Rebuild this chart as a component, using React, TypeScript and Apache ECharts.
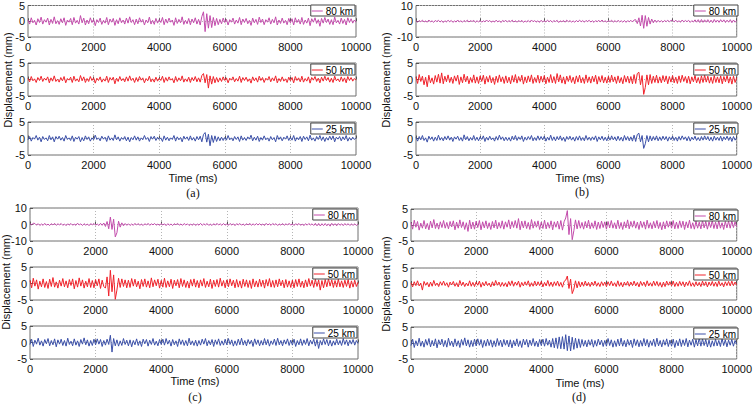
import React, { useEffect, useRef } from "react";
import * as echarts from "echarts";

// Sample spacing of the digitised records (ms)
const SAMPLE_STEP_MS = 50;

const X_TICKS = [0, 2000, 4000, 6000, 8000, 10000];
const SERIES_NAMES = ["80 km", "50 km", "25 km"];

// ---------- (a) ----------
const A80 = [0.4,-0.9,1.1,-0.5,0.3,-1.2,0.8,-0.4,1.3,-0.9,0.5,-0.3,1.0,-1.2,0.6,-0.7,1.4,-0.8,0.2,-1.0,
0.8,-0.5,1.1,-1.3,0.4,-0.3,0.9,-1.1,1.2,-0.6,0.3,-0.9,1.8,-0.5,1.0,-1.2,0.4,-0.8,1.1,-0.4,
0.6,-1.4,0.5,-0.4,1.0,-1.0,0.3,-0.6,1.2,-1.1,0.7,-0.3,0.9,-1.3,0.5,-0.8,1.1,-0.5,0.4,-0.9,
1.0,-0.6,1.4,-0.4,0.5,-1.1,0.7,-0.8,1.1,-0.3,0.6,-1.2,0.4,-0.5,1.3,-0.9,0.3,-1.0,0.9,-0.6,
0.5,-0.4,1.2,-1.1,0.7,-0.6,1.0,-0.3,0.4,-1.3,1.1,-0.7,0.6,-0.5,1.4,-1.0,0.3,-0.8,0.9,-1.1,
0.7,-0.5,1.1,-0.9,0.6,-1.2,1.5,3.0,-3.3,2.4,-2.2,1.8,-2.0,1.2,-1.4,0.9,-1.1,0.6,-0.8,1.0,
-0.4,0.6,-1.2,0.5,-0.3,1.0,-0.9,0.4,-0.6,1.2,-1.1,0.7,-0.4,0.9,-0.8,0.3,-1.3,1.0,-0.5,0.6,
-1.0,1.3,-0.4,0.7,-1.1,0.5,-0.3,1.1,-0.9,0.6,-0.5,1.4,-1.2,0.4,-0.7,1.0,-0.6,0.3,-1.1,0.9,
-0.5,0.8,-1.2,1.1,-0.4,0.6,-0.9,1.2,-1.0,0.4,-0.6,1.0,-1.4,0.8,-0.3,1.1,-0.7,0.5,-1.6,0.9,
-0.6,1.2,-0.4,0.7,-1.0,0.5,-1.1,1.3,-0.5,0.3,-0.9,1.0,-0.7,0.6,-1.2,1.1,-0.4,0.8,-0.6,0.4,
-0.3];
const A50 = [0.3,-0.7,0.9,-0.4,0.2,-0.9,0.6,-0.3,1.0,-0.6,0.4,-0.2,0.8,-1.0,0.5,-0.5,1.1,-0.6,0.1,-0.8,
0.6,-0.4,0.9,-1.0,0.3,-0.2,0.7,-0.9,1.0,-0.5,0.2,-0.7,1.2,-0.4,0.8,-0.9,0.3,-0.6,0.9,-0.3,
0.5,-1.1,0.4,-0.3,0.8,-0.8,0.2,-0.5,1.0,-0.9,0.6,-0.2,0.7,-1.3,0.4,-0.6,0.9,-0.4,0.3,-0.7,
0.8,-0.5,1.1,-0.3,0.4,-0.9,0.6,-0.6,0.9,-0.2,0.5,-1.0,0.3,-0.4,1.0,-0.7,0.2,-0.8,0.7,-0.5,
0.4,-0.3,1.0,-0.9,0.6,-0.5,0.8,-0.2,0.3,-1.0,0.9,-0.6,0.5,-0.4,1.1,-0.8,0.2,-0.6,0.7,-0.9,
0.6,-0.4,0.9,-0.7,0.5,-0.8,1.2,1.8,-1.0,1.5,-2.6,1.1,-1.4,0.9,-1.0,0.6,-0.8,0.5,-0.6,0.8,
-0.3,0.5,-1.0,0.4,-0.2,0.8,-0.7,0.3,-0.5,1.0,-0.9,0.6,-0.3,0.7,-0.6,0.2,-1.1,0.8,-0.4,0.5,
-0.8,1.0,-0.3,0.6,-0.9,0.4,-0.2,0.9,-0.7,0.5,-0.4,1.1,-1.0,0.3,-0.6,0.8,-0.5,0.2,-0.9,0.7,
-0.4,0.6,-1.0,0.9,-0.3,0.5,-0.7,1.0,-0.8,0.3,-0.5,0.8,-1.1,0.6,-0.2,0.9,-0.6,0.4,-1.0,0.7,
-0.5,1.0,-0.3,0.6,-0.8,0.4,-0.9,1.0,-0.4,0.2,-0.7,0.8,-0.6,0.5,-1.0,0.9,-0.3,0.6,-0.5,0.3,
-0.2];
const A25 = [-0.4,0.6,-0.8,0.3,-0.2,0.9,-0.5,0.4,-1.0,0.6,-0.3,0.2,-0.7,0.9,-0.4,0.5,-1.0,0.6,-0.2,0.7,
-0.5,0.3,-0.8,0.9,-0.3,0.2,-0.6,0.8,-0.9,0.4,-0.2,0.6,-1.0,0.3,-0.7,0.8,-0.3,0.5,-0.8,0.2,
-0.4,1.0,-0.3,0.2,-0.7,0.7,-0.2,0.4,-0.9,0.8,-0.5,0.2,-0.6,1.1,-0.4,0.5,-0.8,0.3,-0.3,0.6,
-0.7,0.4,-1.0,0.3,-0.4,0.8,-0.5,0.5,-0.8,0.2,-0.4,0.9,-0.3,0.3,-0.9,0.6,-0.2,0.7,-0.6,0.4,
-0.3,0.2,-0.9,0.8,-0.5,0.4,-0.7,0.2,-0.3,0.9,-0.8,0.5,-0.4,0.3,-1.0,0.7,-0.2,0.5,-0.6,0.8,
-0.5,0.3,-0.8,0.6,-0.4,0.7,-1.0,1.2,1.8,-1.1,1.3,-2.2,0.9,-1.2,0.8,-0.9,0.5,-0.7,0.4,-0.6,
0.3,-0.5,0.9,-0.4,0.2,-0.7,0.6,-0.3,0.5,-0.9,0.8,-0.5,0.3,-0.6,0.5,-0.2,1.0,-0.7,0.4,-0.5,
0.7,-0.9,0.3,-0.5,0.8,-0.4,0.2,-0.8,0.6,-0.4,0.3,-1.0,0.9,-0.3,0.5,-0.7,0.4,-0.2,0.8,-0.6,
0.4,-0.5,0.9,-0.8,0.3,-0.4,0.6,-0.9,0.7,-0.3,0.5,-0.7,1.0,-0.5,0.2,-0.8,0.6,-0.3,0.9,-0.6,
0.5,-0.9,0.3,-0.5,0.7,-0.4,0.8,-1.0,0.4,-0.2,0.6,-0.7,0.5,-0.4,0.9,-0.8,0.3,-0.5,0.4,-0.3,
0.2];

// ---------- (b) ----------
const B80 = [0.4,-0.6,0.5,-0.3,0.7,-0.5,0.2,-0.6,0.8,-0.4,0.3,-0.7,0.5,-0.2,0.6,-0.5,0.4,-0.8,0.3,-0.4,
0.6,-0.3,0.5,-0.7,0.2,-0.5,0.8,-0.4,0.3,-0.6,0.5,-0.3,0.7,-0.5,0.4,-0.2,0.6,-0.7,0.3,-0.4,
0.5,-0.6,0.3,-0.4,0.8,-0.3,0.5,-0.6,0.2,-0.5,0.7,-0.4,0.3,-0.8,0.5,-0.2,0.6,-0.5,0.4,-0.3,
0.7,-0.5,0.3,-0.6,0.4,-0.3,0.6,-0.7,0.2,-0.4,0.5,-0.6,0.8,-0.3,0.4,-0.5,0.3,-0.7,0.6,-0.4,
0.3,-0.5,0.7,-0.3,0.5,-0.6,0.4,-0.2,0.6,-0.8,0.3,-0.4,0.5,-0.6,0.7,-0.3,0.4,-0.5,0.2,-0.6,
0.5,-0.4,0.7,-0.3,0.4,-0.6,0.5,-0.2,0.6,-0.5,0.3,-0.7,0.4,-0.3,0.6,-0.5,0.8,-0.4,0.3,-0.6,
0.5,-0.3,0.7,-0.6,0.4,-0.5,0.6,-0.4,0.3,-0.6,0.5,-0.7,0.4,-0.3,0.6,-0.5,0.8,1.0,-1.5,2.2,
-3.0,3.8,-4.5,3.6,-3.2,2.4,-1.8,1.4,-1.0,0.8,-0.7,0.6,-0.5,0.4,-0.6,0.5,-0.3,0.7,-0.4,0.5,
0.6,-0.4,0.7,-0.5,0.3,-0.6,0.8,-0.4,0.5,-0.3,0.6,-0.7,0.4,-0.5,0.9,-0.6,1.0,-0.8,1.1,-0.7,
0.9,-0.6,1.0,-0.8,0.7,-0.9,1.1,-0.6,0.8,-0.7,1.0,-0.5,0.9,-0.8,0.7,-0.6,1.0,-0.9,0.8,-0.6,
0.5];
const B50 = [0.8,-1.2,1.5,-0.6,1.0,-1.6,0.7,-2.2,1.3,-1.0,0.5,-1.4,1.2,-0.8,1.6,-1.1,2.0,-1.3,1.0,-0.7,
1.4,-0.9,0.7,-1.2,1.1,-0.5,1.3,-1.5,0.8,-1.0,1.6,-0.7,1.0,-1.3,0.6,-0.9,1.4,-1.1,0.8,-1.2,
1.1,-0.6,1.3,-1.4,0.9,-0.8,1.2,-1.0,0.6,-1.5,1.0,-0.9,1.4,-0.7,0.8,-1.2,1.1,-1.0,0.7,-1.3,
1.2,-0.8,1.5,-1.1,0.9,-0.6,1.3,-1.4,0.8,-1.0,1.1,-0.7,1.4,-1.2,0.6,-0.9,1.3,-1.1,1.0,-0.8,
1.2,-1.3,0.7,-0.9,1.5,-1.0,0.9,-1.2,1.8,-0.7,1.4,-1.1,0.8,-1.4,1.0,-0.6,1.2,-0.9,0.7,-1.3,
1.1,-0.8,1.3,-1.0,0.6,-1.2,1.4,-0.9,0.8,-1.1,1.0,-0.7,1.3,-1.4,0.9,-0.8,1.2,-1.0,0.7,-1.1,
1.0,-0.9,1.3,-0.7,0.8,-1.2,1.1,-1.0,0.6,-1.3,1.2,-0.8,1.0,-1.1,0.9,-1.3,1.5,-1.2,1.8,2.2,
-1.6,1.2,-4.5,-2.4,1.4,-1.6,1.5,-1.2,1.0,-0.9,1.3,-1.1,0.8,-1.0,1.2,-0.7,1.1,-1.3,0.9,-0.8,
1.2,-1.0,0.7,-1.2,1.1,-0.9,1.3,-0.6,0.9,-1.1,1.0,-1.3,0.8,-0.7,1.2,-1.0,0.6,-1.2,1.1,-0.9,
1.3,-0.8,1.0,-1.1,0.7,-1.2,1.2,-0.9,0.8,-1.0,1.1,-1.3,0.9,-0.7,1.2,-1.1,0.8,-1.4,1.0,-0.9,
0.6];
const B25 = [0.3,-0.8,0.6,-0.4,0.9,-0.6,0.2,-1.1,0.7,-0.3,0.5,-0.8,0.4,-0.6,1.0,-0.5,0.3,-0.7,0.6,-0.4,
0.8,-0.5,0.4,-0.9,0.5,-0.2,0.7,-0.6,0.3,-0.8,1.1,-0.4,0.6,-0.7,0.3,-0.5,0.9,-0.6,0.4,-0.7,
0.5,-0.3,0.8,-0.9,0.4,-0.5,0.7,-0.4,0.2,-0.8,0.6,-0.5,1.0,-0.3,0.5,-0.7,0.4,-0.6,0.3,-0.8,
0.7,-0.4,0.9,-0.6,0.5,-0.3,0.8,-0.9,0.4,-0.5,0.6,-0.3,0.9,-0.7,0.3,-0.6,0.8,-0.5,0.6,-0.4,
0.7,-0.8,0.4,-0.5,1.0,-0.6,0.5,-0.7,0.6,-0.4,0.8,-0.6,0.4,-0.9,0.6,-0.3,0.7,-0.5,0.4,-0.8,
0.6,-0.5,0.8,-0.6,0.3,-0.7,0.9,-0.5,0.4,-0.6,0.5,-0.4,0.8,-0.9,0.5,-0.4,0.7,-0.6,0.4,-0.7,
0.6,-0.5,0.8,-0.4,0.5,-0.7,0.7,-0.6,0.4,-0.8,0.9,-0.5,0.6,-0.7,0.5,-0.8,1.0,-0.9,1.2,1.6,
-1.0,0.9,-3.0,-1.6,0.9,-1.0,0.8,-0.7,0.6,-0.5,0.8,-0.7,0.5,-0.6,0.7,-0.4,0.6,-0.8,0.5,-0.4,
0.7,-0.6,0.4,-0.8,0.6,-0.5,0.8,-0.3,0.5,-0.7,0.6,-0.8,0.4,-0.4,0.7,-0.6,0.3,-0.7,0.6,-0.5,
0.8,-0.4,0.6,-0.7,0.4,-0.8,0.7,-0.5,0.4,-0.6,0.7,-0.8,0.5,-0.4,0.7,-0.6,0.5,-0.9,0.6,-0.5,
0.3];

// ---------- (c) ----------
const C80 = [0.5,-0.3,0.8,0.6,-0.4,0.5,-0.6,0.3,-0.5,0.7,-0.4,0.2,-0.6,0.5,-0.3,0.7,-0.5,0.4,-0.2,0.6,
-0.5,0.3,-0.7,0.4,-0.3,0.6,-0.4,0.2,-0.5,0.8,-0.3,0.4,-0.6,0.5,-0.4,0.3,-0.7,0.5,-0.2,0.6,
-0.4,0.3,-0.6,0.7,-0.5,0.9,-1.2,1.8,-2.6,4.5,-3.0,3.2,-7.5,-5.0,2.0,-1.6,1.0,-0.8,0.6,-0.5,
0.4,-0.6,0.3,-0.5,0.7,-0.3,0.5,-0.4,0.2,-0.6,0.5,-0.3,0.7,-0.5,0.4,-0.2,0.6,-0.4,0.3,-0.5,
0.6,-0.3,0.4,-0.7,0.5,-0.4,0.3,-0.6,0.5,-0.2,0.7,-0.4,0.3,-0.5,0.6,-0.3,0.4,-0.6,0.2,-0.4,
0.5,-0.6,0.3,-0.4,0.7,-0.5,0.4,-0.3,0.6,-0.5,0.2,-0.6,0.5,-0.4,0.7,-0.3,0.4,-0.5,0.6,-0.4,
0.3,-0.5,0.6,-0.3,0.4,-0.7,0.5,-0.2,0.6,-0.4,0.3,-0.6,0.5,-0.3,0.7,-0.5,0.4,-0.4,0.6,-0.3,
0.5,-0.4,0.3,-0.6,0.7,-0.3,0.4,-0.5,0.6,-0.2,0.5,-0.6,0.3,-0.4,0.6,-0.5,0.4,-0.3,0.7,-0.4,
0.4,-0.6,0.5,-0.3,0.6,-0.5,0.3,-0.7,0.5,-0.4,0.6,-0.3,0.4,-0.6,0.7,-0.8,0.6,-0.9,0.5,-0.7,
0.6,-0.8,0.4,-1.0,0.7,-0.6,0.5,-0.8,0.6,-0.5,0.4,-0.7,0.6,-0.4,0.5,-0.6,0.3,-0.5,0.4,-0.6,
0.3];
const C50 = [0.9,-1.3,1.6,-0.8,1.1,-1.7,0.7,-1.0,1.4,-1.2,0.6,-1.5,1.3,-0.9,1.8,-1.1,0.5,-1.4,1.0,-0.8,
1.5,-1.0,0.8,-1.3,1.2,-0.6,1.4,-1.6,0.9,-1.1,1.7,-0.8,1.1,-1.4,0.7,-1.0,1.5,-1.2,0.9,-1.3,
1.2,-0.7,1.4,-1.5,1.0,-0.9,-1.4,2.0,-3.8,4.0,-2.5,2.6,-4.8,-2.0,1.6,-1.2,1.4,-0.9,1.1,-1.3,
1.0,-1.2,1.5,-0.8,1.3,-1.0,0.7,-1.6,1.2,-0.9,1.4,-1.1,0.8,-1.3,1.7,-1.0,1.1,-0.7,1.3,-1.4,
0.9,-1.1,1.6,-1.2,0.8,-1.0,1.3,-1.5,1.0,-0.7,1.2,-1.3,1.5,-0.9,1.1,-1.2,0.7,-1.4,1.2,-0.8,
1.4,-1.1,0.9,-1.3,1.1,-0.8,1.5,-1.2,0.7,-1.0,1.3,-1.5,1.0,-0.9,1.2,-1.1,1.6,-0.8,0.9,-1.3,
1.1,-1.0,1.4,-0.7,1.0,-1.3,1.2,-1.1,0.8,-1.4,1.3,-0.9,1.1,-1.2,0.9,-1.5,1.4,-1.0,0.8,-1.1,
1.3,-0.9,1.0,-1.4,1.2,-0.8,1.5,-1.1,0.9,-1.2,1.1,-1.0,1.4,-0.7,1.0,-1.3,1.2,-1.1,0.8,-1.2,
1.0,-1.3,1.2,-0.9,1.4,-1.1,0.7,-1.3,1.1,-1.0,1.5,-0.8,1.0,-1.2,1.3,-0.9,1.1,-2.0,0.9,-1.3,
1.2,-1.0,1.4,-0.8,1.1,-1.2,0.9,-1.1,1.3,-1.0,0.8,-1.2,1.0,-0.9,1.2,-1.4,0.8,-1.1,1.0,-0.9,
0.4];
const C25 = [-0.6,1.0,-1.2,0.7,-0.5,1.3,-0.8,0.5,-1.1,0.9,-0.4,1.2,-1.0,0.6,-0.7,1.1,-1.3,0.8,-0.5,1.0,
-0.9,0.6,-1.1,1.3,-0.6,0.4,-1.0,1.1,-0.8,0.5,-1.2,0.9,-0.5,1.4,-0.7,0.8,-1.1,0.6,-0.9,1.0,
-0.7,1.1,-0.5,0.9,-1.2,0.6,-0.8,1.0,-0.6,2.2,-2.9,1.2,-1.0,0.8,-1.1,0.5,-0.9,1.2,-0.6,0.7,
-1.0,0.8,-1.3,0.6,-0.7,1.1,-0.9,0.5,-1.2,1.0,-0.4,0.9,-1.1,0.7,-0.6,1.2,-0.8,0.4,-1.0,0.9,
-0.6,1.0,-0.8,1.2,-0.5,0.7,-1.1,0.9,-0.7,0.5,-1.2,1.1,-0.6,0.8,-0.9,0.6,-1.0,1.3,-0.7,0.5,
-0.9,0.7,-1.1,0.6,-0.8,1.0,-0.5,1.2,-1.0,0.6,-0.7,0.9,-1.2,0.8,-0.6,1.1,-0.9,0.5,-0.8,1.0,
-0.7,1.2,-0.6,0.8,-1.1,0.5,-0.9,1.0,-0.7,1.3,-0.8,0.6,-1.0,0.9,-0.5,0.7,-1.2,1.1,-0.6,0.8,
-1.0,0.6,-0.8,1.2,-0.7,0.9,-1.1,0.5,-0.6,1.0,-0.9,1.3,-0.7,0.6,-1.0,0.8,-0.5,1.1,-0.9,0.7,
-0.8,1.0,-1.2,0.6,-0.7,1.1,-0.9,0.8,-0.6,1.2,-1.0,0.7,-0.5,1.0,-1.1,0.9,-1.8,0.6,-0.8,1.1,
-0.6,0.9,-1.0,0.7,-1.1,0.5,-0.8,1.0,-0.7,0.6,-0.9,1.2,-0.6,0.8,-1.0,0.7,-0.5,0.9,-0.8,0.6,
-0.3];

// ---------- (d) ----------
const D80 = [0.8,-1.3,1.5,-0.7,1.1,-1.6,0.6,-1.0,1.4,-1.2,0.5,-1.5,1.2,-0.9,1.7,-1.1,0.6,-1.3,1.0,-0.8,
1.4,-1.0,0.8,-1.2,1.1,-0.6,1.3,-1.5,0.9,-1.0,1.6,-0.8,1.0,-1.4,0.7,-2.0,1.5,-1.2,0.9,-1.3,
1.2,-0.8,1.4,-1.5,1.0,-0.9,1.3,-1.1,0.7,-1.4,1.1,-0.9,1.5,-1.2,0.8,-1.0,1.3,-1.3,1.0,-0.7,
1.6,-1.2,1.1,-0.8,1.4,-1.0,2.0,-1.5,1.2,-0.9,1.3,-1.1,0.8,-1.4,1.7,-1.0,1.1,-0.7,1.3,-1.4,
0.9,-1.1,1.5,-1.2,0.8,-1.0,1.3,-1.5,1.0,-0.7,1.2,-1.3,1.4,-1.6,1.0,2.2,4.5,-3.0,2.0,-4.6,
-1.8,1.6,-1.2,1.4,-1.0,0.8,-1.3,1.1,-0.9,1.5,-1.2,0.7,-1.0,1.3,-1.4,0.9,-1.1,1.2,-0.8,1.0,
-1.3,1.1,-0.9,1.4,-1.0,0.7,-1.2,1.5,-1.1,0.8,-1.4,1.0,-0.9,1.6,-1.2,1.1,-0.7,1.3,-1.0,0.9,
-1.4,1.2,-0.8,1.0,-1.3,1.5,-1.0,0.7,-1.2,1.1,-0.9,1.4,-1.1,0.8,-1.5,1.0,-1.2,1.3,-0.7,1.1,
-1.0,1.4,-1.2,0.9,-1.1,1.3,-0.8,1.2,-1.4,1.0,-0.9,1.5,-1.1,0.7,-1.3,1.2,-1.0,0.9,-1.2,1.4,
-0.9,1.1,-1.3,1.0,-0.8,1.4,-1.1,0.9,-1.2,1.3,-1.0,0.7,-1.4,1.1,-0.9,1.2,-1.0,1.3,-0.8,1.0,
-0.5];
const D50 = [0.4,-0.9,0.7,-0.5,1.0,-0.6,0.3,-1.9,0.8,-0.4,0.5,-0.9,0.6,-0.7,1.1,-0.5,0.3,-0.8,0.7,-0.4,
0.9,-0.5,0.4,-1.0,0.6,-0.3,0.8,-0.7,0.4,-0.9,1.1,-0.5,0.6,-0.8,0.3,-0.6,1.0,-0.7,0.5,-0.8,
0.6,-0.4,0.9,-1.0,0.5,-0.6,0.8,-0.5,0.3,-0.9,0.7,-0.6,1.1,-0.4,0.6,-0.8,0.5,-0.7,0.4,-0.9,
0.8,-0.5,1.0,-0.7,0.6,-0.4,0.9,-1.0,0.5,-0.6,0.7,-0.4,1.0,-0.8,0.4,-0.7,0.9,-0.6,0.7,-0.5,
0.8,-0.9,0.5,-0.6,1.1,-0.7,0.6,-0.8,0.7,-0.5,0.9,-0.7,0.5,-1.0,0.8,1.2,2.5,-1.4,1.5,-3.0,
-1.6,1.0,-1.2,0.8,-0.9,0.6,-0.7,0.9,-0.6,0.5,-0.8,0.6,-0.5,0.9,-0.7,0.4,-0.8,0.7,-0.5,0.6,
-0.8,0.7,-0.5,0.9,-0.6,0.4,-0.8,1.0,-0.7,0.5,-0.9,0.6,-0.4,0.8,-0.7,0.6,-0.5,0.9,-0.6,0.5,
-0.9,0.8,-0.5,0.6,-0.8,1.0,-0.6,0.4,-0.7,0.9,-0.5,0.8,-0.7,0.5,-1.0,0.6,-0.8,0.9,-0.4,0.7,
-0.6,0.9,-0.8,0.5,-0.7,0.8,-0.5,0.7,-0.9,0.6,-0.5,1.0,-0.7,0.4,-0.8,0.7,-0.6,0.5,-0.8,0.9,
-0.5,0.7,-0.9,0.6,-0.5,0.8,-0.7,0.6,-0.8,0.9,-0.6,0.4,-0.9,0.7,-0.5,0.8,-0.6,0.9,-0.5,0.6,
-0.3];
const D25 = [-0.8,1.2,-1.4,0.7,-0.9,1.5,-1.0,0.6,-1.3,1.1,-0.7,1.4,-1.2,0.8,-0.9,1.3,-1.5,1.0,-0.6,1.2,
-1.1,0.8,-1.3,1.5,-0.8,0.6,-1.2,1.3,-1.0,0.7,-1.4,1.1,-0.7,1.6,-0.9,1.0,-1.3,0.8,-1.1,1.2,
-0.9,1.3,-0.7,1.1,-1.4,0.8,-1.0,1.2,-0.8,1.0,-1.3,0.7,-1.1,1.4,-0.8,0.9,-1.2,1.1,-0.7,0.9,
-1.2,1.0,-1.5,0.8,-0.9,1.3,-1.1,0.7,-1.4,1.2,-0.6,1.1,-1.3,0.9,-0.8,1.4,-1.0,0.6,-1.2,1.1,
-0.8,1.2,-1.0,1.4,-0.7,0.9,-1.3,1.4,-1.5,1.6,-1.7,1.9,-1.8,2.0,-1.9,2.6,-2.4,2.2,-2.5,1.8,
-2.0,1.5,-1.6,1.3,-1.4,1.1,-1.0,0.8,-1.2,1.0,-0.7,1.1,-1.3,0.8,-1.0,1.2,-0.6,0.9,-1.1,0.8,
-1.0,1.4,-0.8,1.0,-1.3,0.7,-1.1,1.2,-0.9,1.5,-1.0,0.8,-1.2,1.1,-0.7,0.9,-1.4,1.3,-0.8,1.0,
-1.2,0.8,-1.0,1.4,-0.9,1.1,-1.3,0.7,-0.8,1.2,-1.1,1.5,-0.9,0.8,-1.2,1.0,-0.7,1.3,-1.1,0.9,
-1.0,1.2,-1.4,0.8,-0.9,1.3,-1.1,1.0,-0.8,1.4,-1.2,0.9,-0.7,1.2,-1.3,1.1,-0.9,1.6,-1.0,1.3,
-0.8,1.1,-1.2,0.9,-1.3,0.7,-1.0,1.2,-0.9,0.8,-1.1,1.4,-0.8,1.0,-1.2,0.9,-0.7,1.1,-1.0,0.8,
-0.4];

// y-axis half-range for each subplot (mm)
const Y_RANGE_A = [5, 5, 5];
const Y_RANGE_B = [10, 5, 5];
const Y_RANGE_C = [10, 5, 5];
const Y_RANGE_D = [5, 5, 5];

// ---------- layout / style (not data) ----------
const W = 755;
const H = 404;
const COLORS = ["#c24bab", "#f0222a", "#3a4fa8"];
const SANS = "'Liberation Sans', Arial, Helvetica, sans-serif";
const SERIF = "'Liberation Serif', 'Times New Roman', serif";

const PANELS = [
  { tag: "(a)", series: [A80, A50, A25], ranges: Y_RANGE_A, left: 28, width: 328, tops: [4, 63, 122], h: 33,
    ylab: [8, 80], xlab: [193, 178], tagPos: [193, 193] },
  { tag: "(b)", series: [B80, B50, B25], ranges: Y_RANGE_B, left: 416, width: 323, tops: [4, 63, 122], h: 33,
    ylab: [386, 80], xlab: [580, 178], tagPos: [582, 192] },
  { tag: "(c)", series: [C80, C50, C25], ranges: Y_RANGE_C, left: 30, width: 328, tops: [208, 267, 326], h: 33,
    ylab: [6, 282], xlab: [195, 381], tagPos: [195, 397] },
  { tag: "(d)", series: [D80, D50, D25], ranges: Y_RANGE_D, left: 411, width: 328, tops: [209, 268, 327], h: 32,
    ylab: [386, 284], xlab: [580, 383], tagPos: [579, 397] },
];

const plain = (v: number) => String(v);

function buildOption() {
  const grid: any[] = [];
  const xAxis: any[] = [];
  const yAxis: any[] = [];
  const series: any[] = [];
  const legend: any[] = [];
  const graphic: any[] = [];

  PANELS.forEach((p) => {
    p.series.forEach((vals, j) => {
      const g = grid.length;
      const top = p.tops[j];
      const m = p.ranges[j];
      grid.push({
        left: p.left, top, width: p.width, height: p.h,
        show: true, borderColor: "#707070", borderWidth: 1, backgroundColor: "#ffffff",
      });
      xAxis.push({
        type: "value", gridIndex: g, min: X_TICKS[0], max: X_TICKS[X_TICKS.length - 1], interval: 2000,
        axisLine: { show: false },
        axisTick: { show: true, inside: true, length: 3, lineStyle: { color: "#555" } },
        axisLabel: { fontSize: 11, fontFamily: SANS, color: "#111", margin: 4, formatter: plain },
        splitLine: { show: true, lineStyle: { type: [1, 2], color: "#b5b5b5", width: 1 } },
      });
      yAxis.push({
        type: "value", gridIndex: g, min: -m, max: m, interval: m,
        axisLine: { show: false },
        axisTick: { show: true, inside: true, length: 3, lineStyle: { color: "#555" } },
        axisLabel: { fontSize: 11, fontFamily: SANS, color: "#111", margin: 3, formatter: plain },
        splitLine: { show: true, lineStyle: { type: [1, 2], color: "#b5b5b5", width: 1 } },
      });
      series.push({
        type: "line", name: SERIES_NAMES[j], xAxisIndex: g, yAxisIndex: g,
        data: vals.map((v, i) => [i * SAMPLE_STEP_MS, v]),
        symbol: "none", clip: true,
        lineStyle: { width: 1, color: COLORS[j] }, itemStyle: { color: COLORS[j] },
        z: 2,
      });
      legend.push({
        data: [SERIES_NAMES[j]], selectedMode: false,
        right: W - (p.left + p.width) + 1, top: top + 1,
        backgroundColor: "#ffffff", borderColor: "#444", borderWidth: 1,
        padding: [1, 2, 0, 1], itemWidth: 11, itemHeight: 1, icon: "rect", itemGap: 0,
        textStyle: { fontSize: 10, fontFamily: SANS, color: "#000", padding: [0, 0, 0, -2] },
      });
    });
    graphic.push({
      type: "text", x: p.ylab[0], y: p.ylab[1], rotation: Math.PI / 2,
      style: { text: "Displacement (mm)", fontSize: 11, fontFamily: SANS, fill: "#111", align: "center", verticalAlign: "middle" },
    });
    graphic.push({
      type: "text", x: p.xlab[0], y: p.xlab[1],
      style: { text: "Time (ms)", fontSize: 11, fontFamily: SANS, fill: "#111", align: "center", verticalAlign: "middle" },
    });
    graphic.push({
      type: "text", x: p.tagPos[0], y: p.tagPos[1],
      style: { text: p.tag, fontSize: 12, fontFamily: SERIF, fill: "#111", align: "center", verticalAlign: "middle" },
    });
  });

  return {
    animation: false,
    backgroundColor: "#ffffff",
    grid, xAxis, yAxis, series, legend, graphic,
  };
}

export default function App() {
  const ref = useRef<HTMLDivElement>(null);
  useEffect(() => {
    if (!ref.current) return;
    const chart = echarts.init(ref.current, null, { renderer: "svg" });
    chart.setOption(buildOption());
    return () => chart.dispose();
  }, []);
  return (
    <div
      ref={ref}
      style={{ position: "fixed", left: 0, top: 0, width: W, height: H, background: "#fff" }}
    />
  );
}
